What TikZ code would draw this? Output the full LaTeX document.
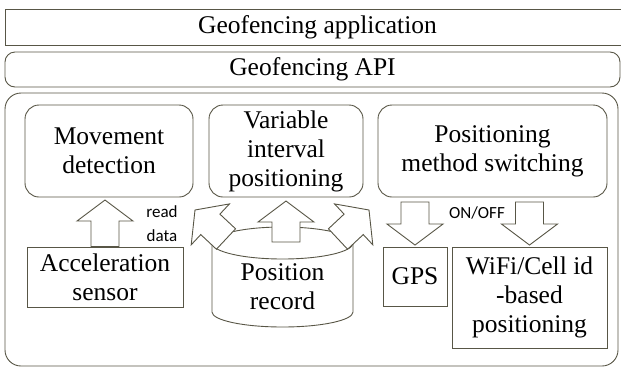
\documentclass[tikz,border=0pt]{standalone}
\usepackage{fontspec}
\setmainfont{Liberation Serif}
\newfontfamily\labelfont{Carlito}
\usepackage{tikz}
\usetikzlibrary{calc, positioning}

\definecolor{edge}{RGB}{88,86,70}
\newcommand{\boxfont}{\rmfamily\fontsize{25.5}{29}\selectfont}
\newcommand{\notefont}{\labelfont\fontsize{17}{24}\selectfont}

% block arrow from #1 (tail) to #2 (tip)
\newcommand{\fatarrow}[2]{%
  \draw[arrowbody] ($(#1)!14pt!90:(#2)$) -- ($(#2)!21pt!(#1)!14pt!90:(#2)$)
    -- ($(#2)!21pt!(#1)!28pt!90:(#2)$) -- (#2)
    -- ($(#2)!21pt!(#1)!28pt!-90:(#2)$) -- ($(#2)!21pt!(#1)!14pt!-90:(#2)$)
    -- ($(#1)!14pt!-90:(#2)$) -- cycle;}

\tikzset{
  box/.style={draw=edge, line width=0.9pt, fill=white, align=center, inner sep=0pt, font=\boxfont},
  rbox/.style={box, rounded corners=14pt},
  arrowbody/.style={draw=edge, line width=0.9pt, fill=white, line join=miter},
  note/.style={align=center, inner sep=0pt, font=\notefont}
}

\begin{document}
\begin{tikzpicture}[x=1pt, y=-1pt]
  \useasboundingbox (0,0) rectangle (621,368);

  % layers
  \node[box, minimum width=625pt, minimum height=36pt] (app) at (317.5,27) {Geofencing application};
  \node[box, rounded corners=10pt, minimum width=615pt, minimum height=35pt] (api) at (312.5,69.5) {Geofencing API};
  \node[box, rounded corners=16pt, minimum width=613pt, minimum height=273pt] (core) at (311.5,229.5) {};

  % modules
  \node[rbox, minimum width=168pt, minimum height=92pt] (move) at (109,151) {Movement\\detection};
  \node[rbox, minimum width=154pt, minimum height=92pt] (varint) at (286,151) {Variable\\interval\\positioning};
  \node[rbox, minimum width=229pt, minimum height=92pt] (switch) at (492.5,151) {Positioning\\method switching};

  \node[box, minimum width=156pt, minimum height=60pt] (accel) at (105,277) {Acceleration\\sensor};
  \node[box, minimum width=64pt, minimum height=59pt] (gps) at (415,276.5) {GPS};
  \node[box, minimum width=155pt, minimum height=101pt] (wifi) at (529.5,297.5) {WiFi/Cell id\\-based\\positioning};

  % position record (cylinder)
  \draw[draw=edge, line width=0.9pt, fill=white] (212,243) -- (212,312)
    arc[start angle=180, end angle=0, x radius=70.5, y radius=15] -- (353,243);
  \draw[draw=edge, line width=0.9pt, fill=white] (282.5,243) ellipse [x radius=70.5, y radius=16];
  \node[box, draw=none, fill=none] (record) at (282.5,287) {Position\\record};

  % arrow ends
  \coordinate (moveIn) at (105,200);
  \coordinate (recTop) at (286,242);
  \coordinate (varIn) at (286,201);
  \coordinate (recLeft) at (226,239);
  \coordinate (varLeft) at (195,210);
  \coordinate (recRight) at (338,239);
  \coordinate (varRight) at (369,210);
  \coordinate (gpsOut) at (415,202);
  \coordinate (gpsIn) at (415,245);
  \coordinate (wifiOut) at (529.5,202);
  \coordinate (wifiIn) at (529.5,245);

  \fatarrow{accel.north}{moveIn}
  \fatarrow{recTop}{varIn}
  \fatarrow{recLeft}{varLeft}
  \fatarrow{recRight}{varRight}
  \fatarrow{gpsOut}{gpsIn}
  \fatarrow{wifiOut}{wifiIn}

  \node[note] (read) at (162,224) {read\\data};
  \node[note] (onoff) at (477,213) {ON/OFF};
\end{tikzpicture}
\end{document}
